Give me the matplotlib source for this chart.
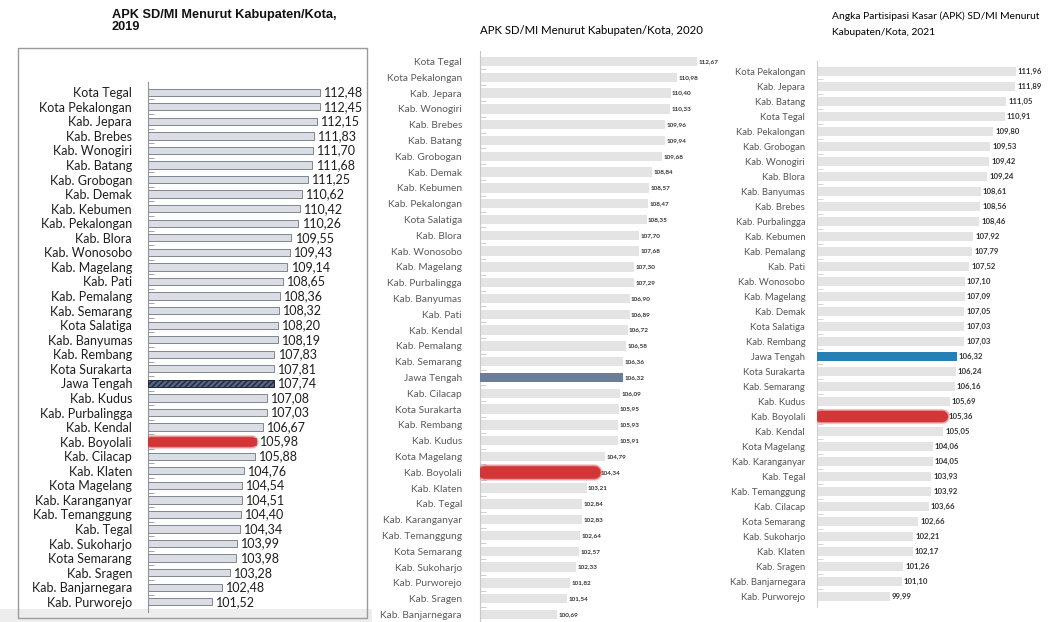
import numpy as np
import matplotlib.pyplot as plt
from matplotlib.patches import Rectangle

W, H = 1051, 622

# APK SD/MI 2019
names_2019 = ['Kota Tegal', 'Kota Pekalongan', 'Kab. Jepara', 'Kab. Brebes', 'Kab. Wonogiri',
              'Kab. Batang', 'Kab. Grobogan', 'Kab. Demak', 'Kab. Kebumen', 'Kab. Pekalongan',
              'Kab. Blora', 'Kab. Wonosobo', 'Kab. Magelang', 'Kab. Pati', 'Kab. Pemalang',
              'Kab. Semarang', 'Kota Salatiga', 'Kab. Banyumas', 'Kab. Rembang', 'Kota Surakarta',
              'Jawa Tengah', 'Kab. Kudus', 'Kab. Purbalingga', 'Kab. Kendal', 'Kab. Boyolali',
              'Kab. Cilacap', 'Kab. Klaten', 'Kota Magelang', 'Kab. Karanganyar', 'Kab. Temanggung',
              'Kab. Tegal', 'Kab. Sukoharjo', 'Kota Semarang', 'Kab. Sragen', 'Kab. Banjarnegara',
              'Kab. Purworejo']
apk_2019 = [112.48, 112.45, 112.15, 111.83, 111.70, 111.68, 111.25, 110.62, 110.42, 110.26,
            109.55, 109.43, 109.14, 108.65, 108.36, 108.32, 108.20, 108.19, 107.83, 107.81,
            107.74, 107.08, 107.03, 106.67, 105.98, 105.88, 104.76, 104.54, 104.51, 104.40,
            104.34, 103.99, 103.98, 103.28, 102.48, 101.52]

# APK SD/MI 2020
names_2020 = ['Kota Tegal', 'Kota Pekalongan', 'Kab. Jepara', 'Kab. Wonogiri', 'Kab. Brebes',
              'Kab. Batang', 'Kab. Grobogan', 'Kab. Demak', 'Kab. Kebumen', 'Kab. Pekalongan',
              'Kota Salatiga', 'Kab. Blora', 'Kab. Wonosobo', 'Kab. Magelang', 'Kab. Purbalingga',
              'Kab. Banyumas', 'Kab. Pati', 'Kab. Kendal', 'Kab. Pemalang', 'Kab. Semarang',
              'Jawa Tengah', 'Kab. Cilacap', 'Kota Surakarta', 'Kab. Rembang', 'Kab. Kudus',
              'Kota Magelang', 'Kab. Boyolali', 'Kab. Klaten', 'Kab. Tegal', 'Kab. Karanganyar',
              'Kab. Temanggung', 'Kota Semarang', 'Kab. Sukoharjo', 'Kab. Purworejo', 'Kab. Sragen',
              'Kab. Banjarnegara']
apk_2020 = [112.67, 110.98, 110.40, 110.33, 109.96, 109.94, 109.68, 108.84, 108.57, 108.47,
            108.35, 107.70, 107.68, 107.30, 107.29, 106.90, 106.89, 106.72, 106.58, 106.36,
            106.32, 106.09, 105.95, 105.93, 105.91, 104.79, 104.34, 103.21, 102.84, 102.83,
            102.64, 102.57, 102.33, 101.82, 101.54, 100.69]

# APK SD/MI 2021
names_2021 = ['Kota Pekalongan', 'Kab. Jepara', 'Kab. Batang', 'Kota Tegal', 'Kab. Pekalongan',
              'Kab. Grobogan', 'Kab. Wonogiri', 'Kab. Blora', 'Kab. Banyumas', 'Kab. Brebes',
              'Kab. Purbalingga', 'Kab. Kebumen', 'Kab. Pemalang', 'Kab. Pati', 'Kab. Wonosobo',
              'Kab. Magelang', 'Kab. Demak', 'Kota Salatiga', 'Kab. Rembang', 'Jawa Tengah',
              'Kota Surakarta', 'Kab. Semarang', 'Kab. Kudus', 'Kab. Boyolali', 'Kab. Kendal',
              'Kota Magelang', 'Kab. Karanganyar', 'Kab. Tegal', 'Kab. Temanggung', 'Kab. Cilacap',
              'Kota Semarang', 'Kab. Sukoharjo', 'Kab. Klaten', 'Kab. Sragen', 'Kab. Banjarnegara',
              'Kab. Purworejo']
apk_2021 = [111.96, 111.89, 111.05, 110.91, 109.80, 109.53, 109.42, 109.24, 108.61, 108.56,
            108.46, 107.92, 107.79, 107.52, 107.10, 107.09, 107.05, 107.03, 107.03, 106.32,
            106.24, 106.16, 105.69, 105.36, 105.05, 104.06, 104.05, 103.93, 103.92, 103.66,
            102.66, 102.21, 102.17, 101.26, 101.10, 99.99]

title_2019 = 'APK SD/MI Menurut Kabupaten/Kota,\n2019'
title_2020 = 'APK SD/MI Menurut Kabupaten/Kota, 2020'
title_2021 = 'Angka Partisipasi Kasar (APK) SD/MI Menurut\nKabupaten/Kota, 2021'

RED = '#d23232'


def fmt(v):
    return f'{v:.2f}'.replace('.', ',')


def box(x0, ytop, x1, ybot):
    # pixel box -> figure fraction
    return [x0 / W, 1 - ybot / H, (x1 - x0) / W, (ybot - ytop) / H]


fig = plt.figure(figsize=(W / 100, H / 100), dpi=100, facecolor='w')

# frame around the 2019 chart and grey strip under it
fig.patches.append(Rectangle((18 / W, 1 - 618 / H), (367 - 18) / W, (618 - 48) / H,
                             transform=fig.transFigure, fill=False, ec='#9a9a9a', lw=1.0))
fig.patches.append(Rectangle((0, 0), 372 / W, 13 / H, transform=fig.transFigure,
                             fc='#ededed', ec='none', zorder=-1))


def panel(rect, names, vals, xlim, hl, bar_kw, lab_kw, val_kw, red_lw, hl_kw, spine_c, off):
    ax = fig.add_axes(rect)
    y = np.arange(len(names))
    x0 = xlim[0]
    v = np.array(vals)
    ax.barh(y, v - x0, left=x0, height=bar_kw['h'], color=bar_kw['fc'],
            edgecolor=bar_kw['ec'], linewidth=bar_kw['lw'], zorder=2)
    j = names.index('Jawa Tengah')
    ax.barh(j, v[j] - x0, left=x0, height=bar_kw['h'], zorder=3, **hl_kw)
    b = names.index('Kab. Boyolali')
    # blurred red marker over Boyolali
    for lw_add, a in [(3, 0.25), (1.5, 0.4), (0, 0.95)]:
        ax.plot([x0 + 0.3, v[b] - 0.45], [b, b], color=RED, lw=red_lw + lw_add,
                solid_capstyle='round', zorder=4, alpha=a)
    for i, val in enumerate(v):
        ax.annotate(fmt(val), (val, i), xytext=(off, 0), textcoords='offset points',
                    va='center', ha='left', annotation_clip=False, **val_kw)
    ax.set_xlim(*xlim)
    ax.set_ylim(len(names) - 1 + 0.7, -0.7)
    ax.set_yticks(y)
    ax.set_yticklabels(names, **lab_kw)
    ax.set_yticks(y[:-1] + 0.5, minor=True)
    ax.tick_params(axis='y', which='major', length=0, pad=hl)
    ax.tick_params(axis='y', which='minor', direction='in', length=4, color=spine_c)
    ax.set_xticks([])
    for s in ['top', 'right', 'bottom']:
        ax.spines[s].set_visible(False)
    ax.spines['left'].set_color(spine_c)
    ax.patch.set_alpha(0)
    return ax


# 2019
panel(box(148, 82, 350, 612), names_2019, apk_2019, (95, 115.5), 11.5,
      dict(fc='#dadee4', ec='#7d858f', lw=0.7, h=0.5),
      dict(fontfamily='Lato', fontsize=9, color='#1e1e1e'),
      dict(fontfamily='Lato', fontsize=9, color='#1e1e1e'),
      7, dict(color='#56657d', hatch='//////', edgecolor='#1c2a40', lw=0.7),
      '#8f949a', 3)

# 2020
panel(box(480, 50.5, 706, 625.5), names_2020, apk_2020, (94.1, 113.43), 13,
      dict(fc='#e4e4e4', ec='none', lw=0, h=0.6),
      dict(fontfamily='Lato', fontsize=7.3, color='#5a5a5a'),
      dict(fontfamily='Lato', fontsize=4.6, color='#333333', fontweight='bold'),
      9, dict(color='#6b7e97'),
      '#c8c8c8', 1)

# 2021
panel(box(817, 61, 1051, 607), names_2021, apk_2021, (93.06, 115.3), 8.5,
      dict(fc='#e4e4e4', ec='none', lw=0, h=0.55),
      dict(fontfamily='Lato', fontsize=6.8, color='#555555'),
      dict(fontfamily='Lato', fontsize=5.6, color='#333333', fontweight='bold'),
      8, dict(color='#2580b6'),
      '#d0d0d0', 1.5)

fig.text(112 / W, 1 - 9 / H, title_2019, ha='left', va='top', fontsize=9.2,
         fontweight='bold', fontfamily='Liberation Sans', linespacing=1.0, color='#111111')
fig.text(591 / W, 1 - 31 / H, title_2020, ha='center', va='center', fontsize=8.2,
         fontfamily='Lato', color='#000000')
fig.text(832 / W, 1 - 11 / H, title_2021, ha='left', va='top', fontsize=7.4,
         fontfamily='Lato', linespacing=2.0, color='#000000')

fig.savefig('out.png', dpi=100)
